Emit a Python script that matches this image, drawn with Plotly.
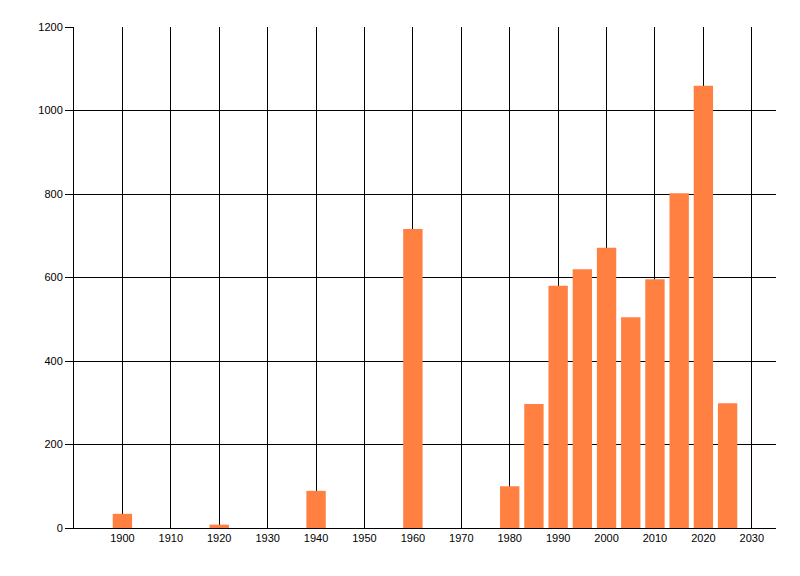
import plotly.graph_objects as go

# === Données ===
years = [1900, 1920, 1940, 1960, 1980, 1985, 1990, 1995, 2000, 2005, 2010, 2015, 2020, 2025]
counts = [34, 8, 89, 716, 100, 297, 580, 620, 671, 505, 596, 802, 1059, 299]
x_ticks = list(range(1900, 2031, 10))
y_ticks = list(range(0, 1201, 200))

fig = go.Figure()

fig.add_trace(go.Bar(
    x=years,
    y=counts,
    width=4,
    marker=dict(color="#FF8040", line=dict(width=0)),
))

# la page ajoute 8px de marge autour du graphique -> on compense
fig.update_layout(
    width=784,
    height=560,
    margin=dict(l=66, r=16, t=19, b=40, autoexpand=False),
    paper_bgcolor="white",
    plot_bgcolor="white",
    showlegend=False,
    font=dict(family="Liberation Sans, Arial, sans-serif", size=11, color="#000000"),
)

fig.update_xaxes(
    range=[1890, 2035],
    tickvals=x_ticks,
    showgrid=True,
    gridcolor="black",
    gridwidth=1,
    showline=True,
    linecolor="black",
    linewidth=1,
    ticks="",
    zeroline=False,
)

fig.update_yaxes(
    range=[0, 1200],
    tickvals=y_ticks,
    showgrid=True,
    gridcolor="black",
    gridwidth=1,
    showline=True,
    linecolor="black",
    linewidth=1,
    ticks="outside",
    ticklen=8,
    tickcolor="black",
    zeroline=False,
)

fig.write_html("out.html")
